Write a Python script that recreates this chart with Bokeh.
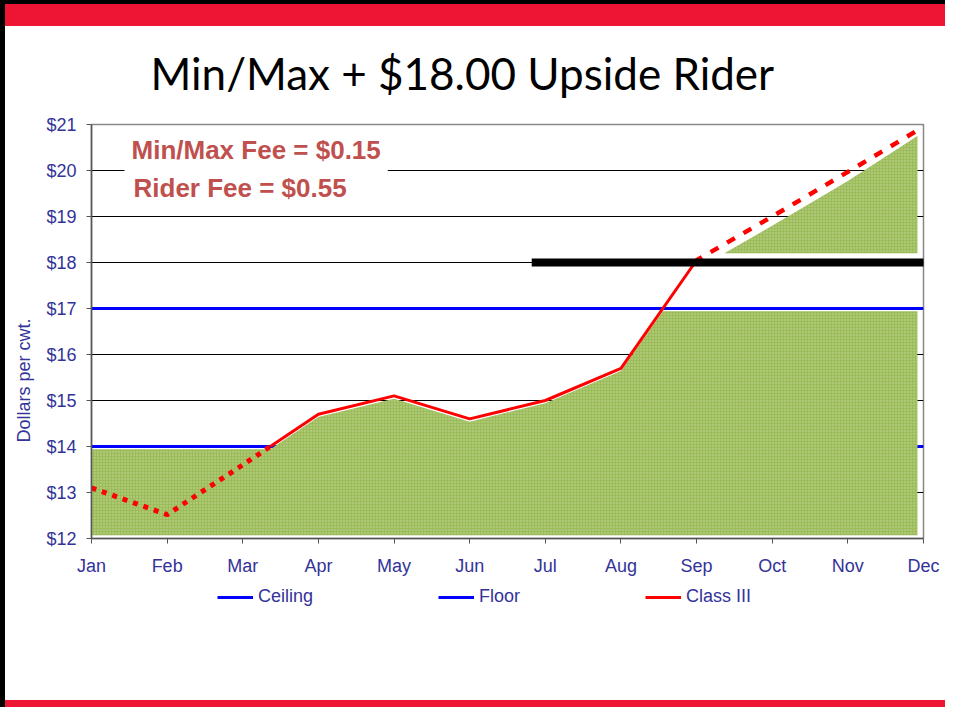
import numpy as np
from bokeh.plotting import figure
from bokeh.layouts import column
from bokeh.models import Range1d, FixedTicker, Label, Legend, LegendItem, Title
from bokeh.embed import file_html
from bokeh.resources import INLINE

# ---------------- data ----------------
months = ["Jan", "Feb", "Mar", "Apr", "May", "Jun", "Jul", "Aug", "Sep", "Oct", "Nov", "Dec"]
class_iii = [13.10, 12.52, 13.60, 14.70, 15.10, 14.60, 15.00, 15.70, 18.05, 19.00, 19.97, 20.95]
floor_price = 14.0
ceiling_price = 17.0
rider_strike = 18.0
rider_span = [5.82, 11.05]          # month-index span of the rider strike bar
y_ticks = [12, 13, 14, 15, 16, 17, 18, 19, 20, 21]
title_text = "Min/Max + $18.00 Upside Rider"
fee_texts = ["Min/Max Fee = $0.15", "Rider Fee = $0.55"]
legend_labels = ["Ceiling", "Floor", "Class III"]
y_title = "Dollars per cwt."

# ---------------- styling constants ----------------
AXIS_COLOR = "#333399"
GREEN = "#9cbc5a"
GREEN_DOT = "#c6daa0"
RED = "#ff0000"
BLUE = "#0000ff"
FEE_COLOR = "#c0504d"
BAND = "#ee1534"

W, H = 945, 707
FRAME_L, FRAME_T = 91, 124          # frame position in the picture (px)
FRAME_W, FRAME_H = 832, 414
MAIN_H = 578                        # height of the chart figure; legend strip below
LEG_H = H - MAIN_H

xi = np.arange(len(months), dtype=float)
yv = np.array(class_iii, dtype=float)
x0, x1 = xi[0], xi[-1]
y0, y1 = y_ticks[0], y_ticks[-1]
PX_X = FRAME_W / (x1 - x0)
PX_Y = FRAME_H / (y1 - y0)


def dx(px):  # picture px -> data x
    return x0 + (px - FRAME_L) / PX_X


def dy(py):  # picture py -> data y
    return y0 + (FRAME_T + FRAME_H - py) / PX_Y


def with_crossings(xs, ys, levels):
    ox, oy = [xs[0]], [ys[0]]
    for i in range(1, len(xs)):
        xa, ya, xb, yb = xs[i - 1], ys[i - 1], xs[i], ys[i]
        cr = []
        for L in levels:
            if (ya - L) * (yb - L) < 0:
                t = (L - ya) / (yb - ya)
                cr.append((xa + t * (xb - xa), L))
        for cx, cy in sorted(cr):
            ox.append(cx)
            oy.append(cy)
        ox.append(xb)
        oy.append(yb)
    return np.array(ox), np.array(oy)


p = figure(
    x_range=Range1d(x0, x1), y_range=Range1d(y0, y1),
    frame_width=FRAME_W, frame_height=FRAME_H,
    min_border_left=FRAME_L, min_border_top=FRAME_T,
    min_border_right=W - FRAME_L - FRAME_W,
    min_border_bottom=MAIN_H - FRAME_T - FRAME_H,
    toolbar_location=None, output_backend="svg",
    background_fill_color="white",
)
p.border_fill_alpha = 0
p.outline_line_color = "#888888"
p.outline_line_width = 1.5

# title (above the frame)
p.title = Title(text=title_text, align="left", offset=150 - FRAME_L, standoff=52,
                vertical_align="bottom", text_font="Lato", text_font_size="44px",
                text_font_style="normal", text_color="black")

# axes
p.xaxis.ticker = FixedTicker(ticks=list(xi))
p.xaxis.major_label_overrides = {int(i): m for i, m in enumerate(months)}
p.yaxis.ticker = FixedTicker(ticks=y_ticks)
p.yaxis.major_label_overrides = {t: f"${t}" for t in y_ticks}
for ax in (p.xaxis[0], p.yaxis[0]):
    ax.axis_line_color = "#555555"
    ax.axis_line_width = 1.5
    ax.major_tick_line_color = "#555555"
    ax.major_tick_out = 5
    ax.major_tick_in = 0
    ax.minor_tick_line_color = None
    ax.major_label_text_color = AXIS_COLOR
    ax.major_label_text_font = "Liberation Sans"
    ax.major_label_text_font_size = "18px"
p.yaxis.major_label_standoff = 10
p.xaxis.major_label_standoff = 12
p.xgrid.grid_line_color = None
p.ygrid.ticker = FixedTicker(ticks=y_ticks)
p.ygrid.grid_line_color = "black"
p.ygrid.grid_line_width = 1

# y-axis title as a side title so it can sit off-centre like the reference
p.add_layout(Title(text=y_title, align="left", offset=FRAME_T + FRAME_H - 442, standoff=19,
                   vertical_align="bottom", text_font="Liberation Sans",
                   text_font_size="18px", text_font_style="normal",
                   text_color=AXIS_COLOR), "left")

# floor line (partly hidden by the area)
p.line([x0, x1], [floor_price, floor_price], line_color=BLUE, line_width=3)

# protected area under min/max
GAP = 0.06
ax_, ay_ = with_crossings(xi, yv, [floor_price, ceiling_price])
area_x = np.minimum(ax_, x1 - 0.08)
p.varea(x=area_x, y1=np.full(len(area_x), y0 + 0.07),
        y2=np.clip(ay_, floor_price, ceiling_price) - GAP,
        fill_color=GREEN, hatch_pattern="dot", hatch_color=GREEN_DOT, hatch_scale=3,
        hatch_weight=1)

# upside above the rider strike
TGAP = 0.2
tx, ty = with_crossings(xi, yv, [rider_strike + 2 * TGAP])
m = ty >= rider_strike + 2 * TGAP
tri_x = np.minimum(tx[m], x1 - 0.08)
p.varea(x=tri_x, y1=np.full(m.sum(), rider_strike + TGAP), y2=ty[m] - TGAP,
        fill_color=GREEN, hatch_pattern="dot", hatch_color=GREEN_DOT, hatch_scale=3,
        hatch_weight=1)

# ceiling line
p.line([x0, x1], [ceiling_price, ceiling_price], line_color=BLUE, line_width=3)

# Class III line, dotted below floor, dashed above rider strike
rx, ry = with_crossings(xi, yv, [floor_price, rider_strike])
low = ry <= floor_price
mid = (ry >= floor_price) & (ry <= rider_strike)
high = ry >= rider_strike
p.line(rx[low], ry[low], line_color=RED, line_width=5, line_dash="5 6")
p.line(rx[mid], ry[mid], line_color=RED, line_width=3)
p.line(rx[high], ry[high], line_color=RED, line_width=4.5, line_dash="9 10")

# rider strike bar
p.line(rider_span, [rider_strike, rider_strike], line_color="black", line_width=8)

# fee texts
p.add_layout(Label(x=dx(124), y=dy(149), text=fee_texts[0], text_align="left",
                   text_baseline="alphabetic", text_font="Liberation Sans",
                   text_font_style="bold", text_font_size="26px", text_color=FEE_COLOR,
                   background_fill_color="white", padding=7))
p.add_layout(Label(x=dx(133), y=dy(187.5), text=fee_texts[1], text_align="left",
                   text_baseline="alphabetic", text_font="Liberation Sans",
                   text_font_style="bold", text_font_size="26px", text_color=FEE_COLOR))

# ---------------- legend strip (its own figure so nothing is clipped) ----------------
q = figure(width=W, height=LEG_H, x_range=Range1d(0, 1), y_range=Range1d(0, 1),
           min_border=0, x_axis_location=None, y_axis_location=None,
           toolbar_location=None, output_backend="svg")
q.grid.visible = False
q.outline_line_color = None
q.background_fill_alpha = 0
q.border_fill_alpha = 0
# same series as the chart; they fall outside this strip's ranges, only the legend shows
leg_series = [([x0, x1], [ceiling_price, ceiling_price], BLUE),
              ([x0, x1], [floor_price, floor_price], BLUE),
              (list(xi), list(yv), RED)]
leg_rends = [q.line(x=sx, y=sy, line_color=c, line_width=3) for sx, sy, c in leg_series]
legend = Legend(items=[LegendItem(label=lab, renderers=[r])
                       for lab, r in zip(legend_labels, leg_rends)],
                location=(217 - FRAME_L, LEG_H - (597 - MAIN_H) - 10),
                orientation="horizontal",
                border_line_color=None, background_fill_alpha=0, padding=0, margin=0,
                spacing=125, glyph_width=36, glyph_height=20, label_height=20,
                label_standoff=5, label_text_font="Liberation Sans",
                label_text_font_size="18px", label_text_color=AXIS_COLOR)
q.add_layout(legend, "center")

page = column(p, q, spacing=0, styles={
    "background": (
        "linear-gradient(to right, #000000 0px, #000000 5px, rgba(0,0,0,0) 5px), "
        f"linear-gradient(to bottom, #000000 0px, #000000 4px, {BAND} 4px, {BAND} 26px, "
        f"#ffffff 26px, #ffffff 700px, {BAND} 700px, {BAND} 100%)"
    )
})

open("out.html", "w").write(file_html(page, INLINE))
